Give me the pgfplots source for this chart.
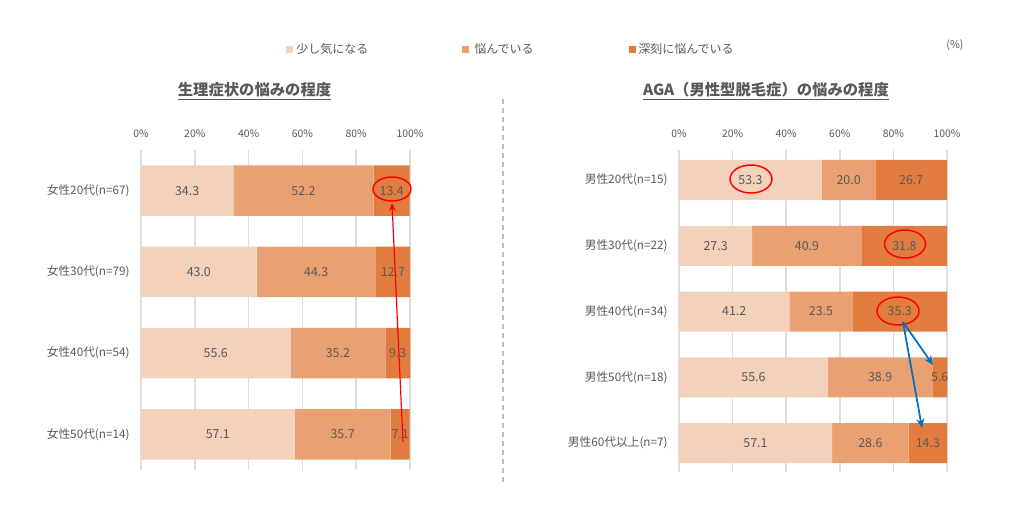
\documentclass[border=0pt]{standalone}
\usepackage{pgfplots}
\pgfplotsset{compat=1.18}
\usepackage{pgfplotstable}
\usepackage{fontspec}
\setmainfont{Noto Sans CJK JP}
\usetikzlibrary{arrows.meta}

\definecolor{light}{HTML}{F4D1BB}
\definecolor{mid}{HTML}{E9A173}
\definecolor{dark}{HTML}{E27C3E}
\definecolor{txt}{HTML}{595959}
\definecolor{gridc}{HTML}{DDDDDD}
\definecolor{sep}{HTML}{BFBFBF}
\definecolor{arrowblue}{HTML}{0070C0}

% 生理症状: 少し気になる / 悩んでいる / 深刻に悩んでいる
\pgfplotstableread{
row a b c
1 34.3 52.2 13.4
2 43.0 44.3 12.7
3 55.6 35.2 9.3
4 57.1 35.7 7.1
}\joseidata

% AGA
\pgfplotstableread{
row a b c
1 53.3 20.0 26.7
2 27.3 40.9 31.8
3 41.2 23.5 35.3
4 55.6 38.9 5.6
5 57.1 28.6 14.3
}\agadata

\pgfplotsset{
  nayami/.style={
    xbar stacked,
    scale only axis,
    enlargelimits=false,
    y dir=reverse,
    xmin=0, xmax=100,
    xtick={0,20,...,100},
    xticklabels={0\%,20\%,40\%,60\%,80\%,100\%},
    xticklabel pos=upper,
    xmajorgrids,
    ymajorgrids=false,
    grid style={gridc, line width=1.1pt},
    axis line style={draw=none},
    major tick length=0pt,
    tick label style={text=txt},
    xticklabel style={font=\fontsize{7.8}{9}\selectfont, yshift=6pt},
    yticklabel style={font=\fontsize{8.8}{10}\selectfont, xshift=-5pt},
    point meta=explicit symbolic,
    nodes near coords={\pgfplotspointmeta},
    every node near coord/.append style={anchor=center, text=txt,
      font=\fontsize{9.3}{11}\selectfont},
    clip=false,
  }
}

\begin{document}
\begin{tikzpicture}
\path[use as bounding box] (0,0) rectangle ({1024*0.75pt},{-515*0.75pt});

\begin{axis}[nayami,
  at={({141*0.75pt},{-150*0.75pt})}, anchor=north west,
  width=201.75pt, height=240pt,
  ymin=0.5, ymax=4.44, bar width=37.9pt,
  ytick={1,2,3,4},
  yticklabels={{女性20代(n=67)},{女性30代(n=79)},{女性40代(n=54)},{女性50代(n=14)}}]
\addplot[fill=light, draw=none] table[x=a, y=row, meta=a] {\joseidata};
\addplot[fill=mid, draw=none] table[x=b, y=row, meta=b] {\joseidata};
\addplot[fill=dark, draw=none] table[x=c, y=row, meta=c] {\joseidata};
\end{axis}

\begin{axis}[nayami,
  at={({679*0.75pt},{-150*0.75pt})}, anchor=north west,
  width=201pt, height=241.5pt,
  ymin=0.544, ymax=5.44, bar width=30pt,
  ytick={1,2,3,4,5},
  yticklabels={{男性20代(n=15)},{男性30代(n=22)},{男性40代(n=34)},{男性50代(n=18)},{男性60代以上(n=7)}}]
\addplot[fill=light, draw=none] table[x=a, y=row, meta=a] {\agadata};
\addplot[fill=mid, draw=none] table[x=b, y=row, meta=b] {\agadata};
\addplot[fill=dark, draw=none] table[x=c, y=row, meta=c] {\agadata};
\end{axis}

\begin{scope}[x=0.75pt, y=-0.75pt]
  % legend
  \fill[light] (286,46) rectangle (293,53);
  \node[anchor=west, text=txt, font=\fontsize{9}{11}\selectfont, inner sep=0pt] at (296,48.5) {少し気になる};
  \fill[mid] (462,46) rectangle (469,53);
  \node[anchor=west, text=txt, font=\fontsize{9}{11}\selectfont, inner sep=0pt] at (474,48.5) {悩んでいる};
  \fill[dark] (629,46) rectangle (636,53);
  \node[anchor=west, text=txt, font=\fontsize{9}{11}\selectfont, inner sep=0pt] at (638,48.5) {深刻に悩んでいる};
  \node[text=txt, font=\fontsize{8}{10}\selectfont] at (955,45) {(\%)};

  % titles
  \node[text=txt, font=\bfseries\fontsize{11.5}{13}\selectfont] at (254.5,91) {\underline{生理症状の悩みの程度}};
  \node[text=txt, font=\bfseries\fontsize{11.5}{13}\selectfont] at (766,91) {\underline{AGA（男性型脱毛症）の悩みの程度}};

  % separator
  \draw[sep, line width=1.2pt, dash pattern=on 3.75pt off 3pt] (503,99) -- (503,483);

  % annotations
  \draw[red, line width=1.1pt] (392,189) ellipse [x radius=19, y radius=12];
  \draw[red, line width=0.9pt, -{Stealth[length=6pt,width=5pt]}] (403,442) -- (392,203);

  \draw[red, line width=1.1pt] (751,179) ellipse [x radius=21, y radius=14];
  \draw[red, line width=1.1pt] (905,244) ellipse [x radius=20.5, y radius=14];
  \draw[red, line width=1.1pt] (898,311) ellipse [x radius=21, y radius=14];

  \draw[arrowblue, line width=1.3pt, -{Stealth[length=7pt,width=6pt]}] (903,322) -- (933,365);
  \draw[arrowblue, line width=1.3pt, -{Stealth[length=7pt,width=6pt]}] (903,322) -- (922,428);
\end{scope}
\end{tikzpicture}
\end{document}
